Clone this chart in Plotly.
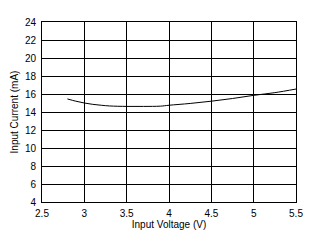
import plotly.graph_objects as go

voltage = [2.8, 2.9, 3.0, 3.1, 3.2, 3.3, 3.5, 3.7, 3.9, 4.0, 4.25, 4.5, 4.75, 5.0, 5.25, 5.5]
current = [15.45, 15.2, 15.0, 14.85, 14.75, 14.67, 14.62, 14.62, 14.65, 14.75, 14.95, 15.2, 15.5, 15.85, 16.15, 16.55]

x_ticks = [2.5, 3, 3.5, 4, 4.5, 5, 5.5]
x_labels = ["2.5", "3", "3.5", "4", "4.5", "5", "5.5"]
y_ticks = [4, 6, 8, 10, 12, 14, 16, 18, 20, 22, 24]

fig = go.Figure()
fig.add_trace(go.Scatter(x=voltage, y=current, mode="lines",
                         line=dict(color="black", width=1, shape="spline"),
                         showlegend=False))

font = dict(family="Liberation Sans, Arial, sans-serif", size=10, color="black")
fig.update_layout(
    width=317, height=243,
    margin=dict(l=42, r=21, t=22, b=41),
    paper_bgcolor="white", plot_bgcolor="white",
    font=font,
    xaxis=dict(range=[2.5, 5.5], tickvals=x_ticks, ticktext=x_labels,
               showgrid=True, gridcolor="black", gridwidth=1,
               showline=True, linecolor="black", linewidth=1, mirror=True,
               zeroline=False, ticks="", ticklen=0, ticklabelstandoff=2,
               title=dict(text="Input Voltage (V)", standoff=2, font=font)),
    yaxis=dict(range=[4, 24], tickvals=y_ticks,
               showgrid=True, gridcolor="black", gridwidth=1,
               showline=True, linecolor="black", linewidth=1, mirror=True,
               zeroline=False, ticks="", ticklen=0, ticklabelstandoff=3,
               title=dict(text="Input Current (mA)", standoff=4, font=font)),
)

fig.write_html("out.html")
